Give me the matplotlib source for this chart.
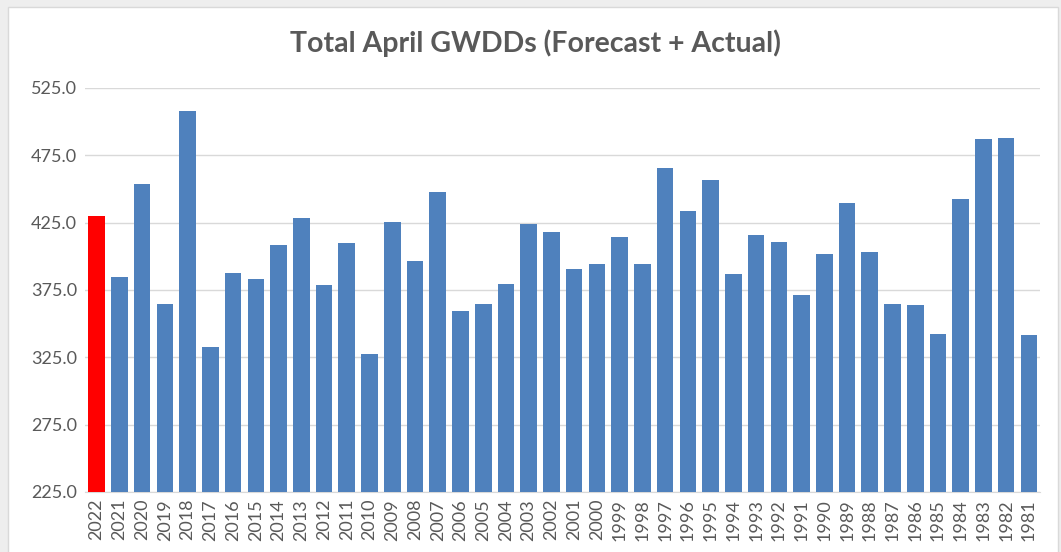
import numpy as np
import matplotlib.pyplot as plt
from matplotlib.patches import Rectangle

# years shown newest first, as in the source chart
years = [str(y) for y in range(2022, 1980, -1)]
gwdds = [430.2, 384.4, 453.8, 364.8, 508.0, 332.6, 387.8, 382.9, 408.5, 428.7,
         379.0, 409.8, 327.6, 425.5, 396.7, 447.8, 359.6, 364.5, 379.5, 423.7,
         417.7, 390.4, 394.6, 414.5, 394.6, 465.6, 433.9, 457.0, 386.8, 415.8,
         410.9, 371.6, 401.7, 439.7, 403.5, 364.8, 363.7, 342.5, 442.8, 486.8,
         487.6, 341.5]
yticks = [225, 275, 325, 375, 425, 475, 525]

plt.rcParams['font.family'] = ['Lato', 'DejaVu Sans']
text_grey = '#595959'

fig = plt.figure(figsize=(10.61, 5.52), dpi=100, facecolor='#eeeeee')
#white chart area, grey frame shows at top, left and right
fig.patches.append(Rectangle((8 / 1061, -0.01), 1050 / 1061, 545 / 552 + 0.01,
                             transform=fig.transFigure, facecolor='white',
                             edgecolor='#d9d9d9', lw=1, zorder=-10))

ax = fig.add_axes([85.3 / 1061, 1 - 492 / 552, 955 / 1061, 404 / 552])
ax.set_facecolor('none')

colors = ['#ff0000'] + ['#4f81bd'] * (len(years) - 1)
x = np.arange(len(years))
ax.bar(x, gwdds, width=0.73, color=colors, zorder=3)

ax.set_xlim(-0.5, len(years) - 0.5)
ax.set_ylim(225, 525)
ax.set_yticks(yticks)
ax.set_yticklabels(['%.1f' % v for v in yticks])
ax.set_xticks(x)
ax.set_xticklabels(years, rotation=90)
ax.tick_params(axis='both', length=0, colors=text_grey, labelsize=13)
ax.tick_params(axis='y', pad=6)
ax.tick_params(axis='x', pad=5)

ax.grid(True, axis='y', color='#d9d9d9', lw=1, zorder=0)
for s in ['top', 'right', 'left']:
    ax.spines[s].set_visible(False)
ax.spines['bottom'].set_color('#d9d9d9')

fig.text(535 / 1061, 1 - 43 / 552, 'Total April GWDDs (Forecast + Actual)',
         ha='center', va='center', fontsize=20.5, fontweight='bold',
         color=text_grey)

fig.savefig('out.png', dpi=100, facecolor=fig.get_facecolor())
